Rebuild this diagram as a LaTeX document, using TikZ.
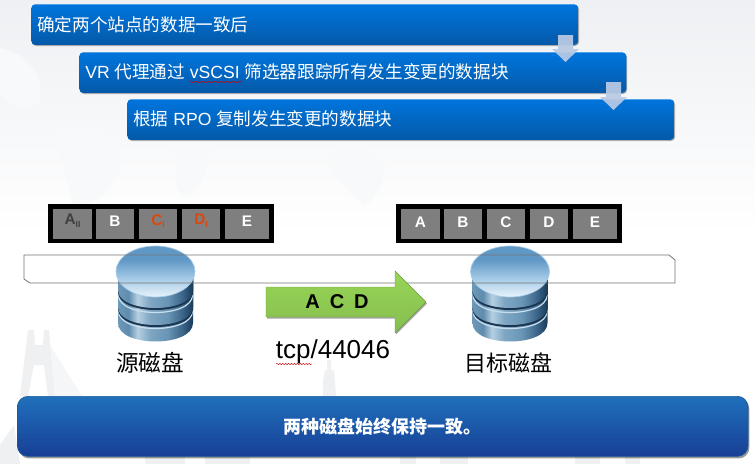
\documentclass[tikz,border=0pt]{standalone}
\usepackage{fontspec}
\setmainfont{Liberation Sans}
\newfontfamily\cjk{Noto Sans CJK SC}
\usetikzlibrary{shadows,decorations.pathmorphing}
\definecolor{bluetop}{HTML}{0075DD}
\definecolor{bluebot}{HTML}{0459A8}
\definecolor{barTop}{HTML}{2070BC}
\definecolor{barBot}{HTML}{173F95}
\definecolor{cellgray}{HTML}{7F7F7F}
\definecolor{redtxt}{HTML}{D9480F}
\definecolor{bgtop}{HTML}{EEF0F3}
\definecolor{bgfaint}{HTML}{EEF0F2}
\definecolor{bgland}{HTML}{F8F9FA}
\definecolor{arrowpale}{HTML}{B9CAE4}
\definecolor{dA}{HTML}{6D98B8}
\definecolor{dB}{HTML}{5F8CAD}
\definecolor{dC}{HTML}{B5D0E2}
\definecolor{dD}{HTML}{7FA7C4}
\definecolor{dE}{HTML}{6A95B5}
\definecolor{dF}{HTML}{3F6A8E}
\definecolor{dG}{HTML}{183A58}
\definecolor{gapc}{HTML}{1B3550}
\definecolor{capTop}{HTML}{5F97C5}
\definecolor{capMid}{HTML}{A9CDE8}
\definecolor{capBot}{HTML}{E8F3FB}
\definecolor{rimc}{HTML}{C9DFEE}
\definecolor{gdark}{HTML}{6F9C3F}
\definecolor{gtop}{HTML}{98D456}
\definecolor{gbot}{HTML}{85BF4F}
\pgfdeclarehorizontalshading{diskband}{100bp}{color(0bp)=(dA);color(25bp)=(dA);color(32bp)=(dB);color(38bp)=(dC);color(46bp)=(dD);color(58bp)=(dE);color(67bp)=(dF);color(75bp)=(dG);color(100bp)=(dG)}
\pgfdeclareverticalshading{diskcap}{100bp}{color(0bp)=(capBot);color(25bp)=(capBot);color(42bp)=(capMid);color(62bp)=(capTop);color(75bp)=(capTop);color(100bp)=(capTop)}
\tikzset{
  stepbox/.style={rounded corners=3pt,top color=bluetop,bottom color=bluebot,anchor=north west,inner sep=0pt,minimum width=410.25pt,minimum height=30.5pt,drop shadow={shadow xshift=0.6pt,shadow yshift=-0.8pt,opacity=.3,fill=black}},
  steptext/.style={anchor=west,text=white,font=\fontsize{13.2}{15}\selectfont,inner sep=0pt},
  downarrow/.style={fill=arrowpale,fill opacity=.93,draw=none},
  cellbox/.style={fill=cellgray,draw=none,inner sep=0pt,text=white,font=\bfseries\fontsize{11.5}{13}\selectfont},
  celltext/.style={inner sep=0pt,font=\bfseries\fontsize{11.5}{13}\selectfont},
  wavy/.style={draw=red!80!black,line width=.35pt,decorate,decoration={snake,amplitude=.45pt,segment length=2.2pt}},
}
\newcommand{\layer}[3][diskband]{%
 \path[shading=#1] (-37.5,272) -- (-37.5,#2) .. controls (-37.5,{#2+1.333*#3}) and (37.5,{#2+1.333*#3}) .. (37.5,#2) -- (37.5,272) -- cycle;}
\newcommand{\gap}[2]{%
 \fill[gapc] (-37.5,272) -- (-37.5,#1) .. controls (-37.5,{#1+1.333*#2}) and (37.5,{#1+1.333*#2}) .. (37.5,#1) -- (37.5,272) -- cycle;}
\newcommand{\rim}[2]{%
 \draw[rimc,line width=.9pt] (-37,#1) .. controls (-37,{#1+1.333*#2}) and (37,{#1+1.333*#2}) .. (37,#1);}
\newcommand{\disk}[1]{%
 \begin{scope}[shift={(#1,0)}]
  \layer{323}{18.5}
  \rim{311}{17.5}
  \gap{309}{18}
  \layer{307}{18}
  \rim{295}{17.5}
  \gap{292}{18}
  \layer{290}{18}
  \path[shading=diskcap,draw=capMid,line width=.5pt] (0,271.5) ellipse[x radius=39.5,y radius=25.5];
 \end{scope}}
\begin{document}
\begin{tikzpicture}[x=.75pt,y=-.75pt]
\useasboundingbox (0,0) rectangle (755,464);
\fill[white] (0,0) rectangle (755,464);
\shade[top color=bgtop,bottom color=white] (0,0) rectangle (755,235);
% faint background land masses
\fill[bgland] (0,48) .. controls (25,52) and (45,75) .. (40,100) .. controls (30,115) and (10,105) .. (0,95) -- cycle;
\fill[bgland] (57,130) -- (100,130) .. controls (115,145) and (125,150) .. (118,175) .. controls (108,185) and (105,205) .. (72,205) .. controls (70,180) and (55,150) .. (57,130) -- cycle;
\fill[bgland] (172,140) -- (212,140) .. controls (210,165) and (200,195) .. (185,196) .. controls (165,185) and (185,165) .. (172,140) -- cycle;
\fill[bgland] (330,155) .. controls (350,145) and (385,150) .. (385,170) .. controls (380,195) and (370,205) .. (362,205) .. controls (355,190) and (325,180) .. (330,155) -- cycle;
% faint bridge and skyline
\fill[bgfaint] (20,396) -- (28,330) -- (34,330) -- (35,345) -- (43,345) -- (44,330) -- (49,330) -- (55,396) -- (48,396) -- (44,365) -- (34,365) -- (28,396) -- cycle;
\fill[bgfaint!60!white] (50,345) -- (82,396) -- (55,396) -- cycle;
\fill[bgfaint] (323,382) -- (325,370) -- (327,370) -- (327,360) -- (331,360) -- (331,370) -- (334,370) -- (336,396) -- (323,396) -- cycle;
\fill[bgfaint] (0,445) -- (14,425) -- (20,464) -- (0,464) -- cycle;
\foreach \a/\b in {145/185,205/250,400/416,440/468,575/600,625/640}{\fill[bgfaint] (\a,456) rectangle (\b,464);}
% top boxes
\node[stepbox] (s1) at (31,4) {};
\node[stepbox] (s2) at (79,52) {};
\node[stepbox] (s3) at (127,99) {};
\node[steptext] (t1) at (37,25) {\cjk 确定两个站点的数据一致后};
\node[steptext] (t2) at (85,71.5) {VR {\cjk 代理通过} vSCSI {\cjk 筛选器跟踪所有发生变更的数据块}};
\node[steptext] (t3) at (133,118.5) {{\cjk 根据} RPO {\cjk 复制发生变更的数据块}};
\coordinate (w1a) at (190,82); \coordinate (w1b) at (242,82);
\draw[wavy] (w1a) -- (w1b);
% down arrows
\path[downarrow] (558,35) -- (573,35) -- (573,49) -- (579,49) -- (565.5,62) -- (552,49) -- (558,49) -- cycle;
\path[downarrow] (606,82) -- (621,82) -- (621,97) -- (627,97) -- (613.5,110) -- (600,97) -- (606,97) -- cycle;
% block strips
\fill[black] (48,204) rectangle (274,243);
\fill[black] (396,204) rectangle (622,243);
\foreach \n/\a/\b in {a/53/92,b/96/134,c/139/177,d/182/220,e/225/269}{
  \fill[cellgray] (\a,209) rectangle (\b,239);
  \coordinate (l\n) at ({(\a+\b)/2},221);
}
\foreach \n/\a/\b/\t in {a/401/440/A,b/444/482/B,c/487/525/C,d/530/568/D,e/573/617/E}{
  \node[cellbox,minimum width={(\b-\a)*.75pt},minimum height=22.5pt] (r\n) at ({(\a+\b)/2},224) {\raisebox{2.5pt}{\t}};
}
\node[celltext,text=black!75] (na) at (la) {A\raisebox{-2pt}{\fontsize{6.5}{7}\selectfont II}};
\node[celltext,text=white] (nb) at (lb) {B};
\node[celltext,text=redtxt] (nc) at (lc) {C\raisebox{-2pt}{\fontsize{6.5}{7}\selectfont I}};
\node[celltext,text=redtxt] (nd) at (ld) {D\raisebox{-2pt}{\fontsize{6.5}{7}\selectfont I}};
\node[celltext,text=white] (ne) at (le) {E};
% disks
\disk{155.5}
\disk{510}
% strip outline
\draw[black!55,line width=.6pt] (24,255) -- (669,255) -- (675,260) -- (675,283) -- (30,283) -- (24,279) -- cycle;
% green arrow
\path[top color=gtop,bottom color=gbot,draw=gdark,line width=.3pt,drop shadow={shadow xshift=.8pt,shadow yshift=-1.2pt,opacity=.35,fill=black}] (266,287) -- (395,287) -- (395,271) -- (426,302) -- (395,333) -- (395,317) -- (266,317) -- cycle;
\node[font=\bfseries\fontsize{15}{17}\selectfont,inner sep=0pt] (gt) at (337,302) {A\hspace{7.5pt}C\hspace{7.5pt}D};
% labels
\node[font=\fontsize{19.5}{21}\selectfont,inner sep=0pt] (tcp) at (333,352) {tcp/44046};
\coordinate (w2a) at (276,364); \coordinate (w2b) at (312,364);
\draw[wavy] (w2a) -- (w2b);
\node[font=\cjk\fontsize{17}{19}\selectfont,inner sep=0pt] (src) at (150,363) {源磁盘};
\node[font=\cjk\fontsize{16.5}{19}\selectfont,inner sep=0pt] (dst) at (508,363) {目标磁盘};
% bottom bar
\node[rounded corners=8pt,top color=barTop,bottom color=barBot,draw=barTop!80!black,line width=.5pt,minimum width=548pt,minimum height=45pt,inner sep=0pt,anchor=north west,text=white,font=\cjk\bfseries\fontsize{13.5}{15}\selectfont,drop shadow={shadow xshift=1pt,shadow yshift=-1.6pt,opacity=.4,fill=black}] (bar) at (17,396) {两种磁盘始终保持一致。};
\end{tikzpicture}
\end{document}
